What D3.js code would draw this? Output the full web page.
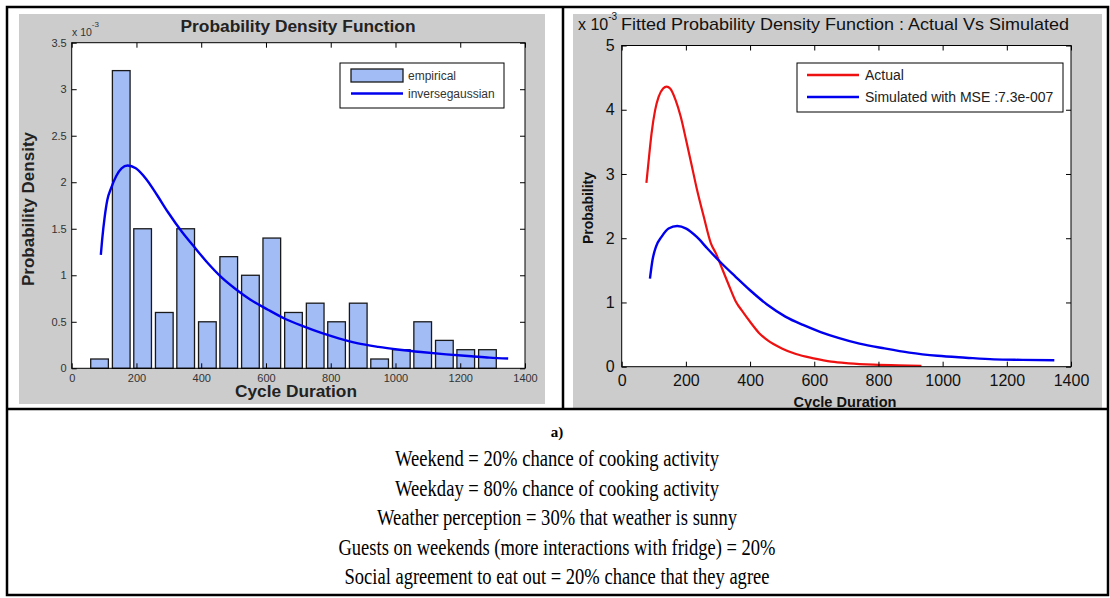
<!DOCTYPE html>
<html>
<head>
<meta charset="utf-8">
<script src="https://cdn.jsdelivr.net/npm/d3@7"></script>
<style>
body{margin:0;background:#fff;}
svg{display:block;}
</style>
</head>
<body>
<svg id="chart" width="1110" height="598"></svg>
<script>
// ---------------- DATA ----------------
// Left: histogram (density ×1e-3) and inverse gaussian fit
const binCenters = [86, 153, 219, 286, 352, 419, 485, 552, 618, 685, 752, 818, 885, 951, 1018, 1084, 1151, 1217, 1284];
const empiricalDensity = [0.1, 3.2, 1.5, 0.6, 1.5, 0.5, 1.2, 1.0, 1.4, 0.6, 0.7, 0.5, 0.7, 0.1, 0.2, 0.5, 0.3, 0.2, 0.2];
const fitX = [90, 94, 102, 110, 121, 138, 154, 173, 198, 231, 264, 297, 342, 375, 418, 462, 507, 551, 606, 660, 716, 771, 827, 881, 947, 1013, 1079, 1157, 1234, 1290, 1348];
const fitY = [1.22, 1.38, 1.63, 1.81, 1.93, 2.07, 2.15, 2.18, 2.15, 2.03, 1.86, 1.68, 1.46, 1.32, 1.14, 0.98, 0.85, 0.74, 0.63, 0.53, 0.45, 0.38, 0.32, 0.27, 0.23, 0.20, 0.175, 0.15, 0.13, 0.115, 0.105];

// Right: actual vs simulated density (×1e-3)
const actualX = [77, 85, 93, 104, 115, 129, 140, 151, 168, 184, 201, 217, 234, 256, 278, 294, 311, 333, 355, 378, 400, 427, 455, 499, 543, 598, 653, 708, 785, 862, 934];
const actualY = [2.86, 3.26, 3.63, 3.99, 4.20, 4.33, 4.36, 4.33, 4.15, 3.89, 3.52, 3.16, 2.77, 2.33, 1.92, 1.76, 1.55, 1.28, 1.02, 0.85, 0.70, 0.53, 0.41, 0.285, 0.197, 0.13, 0.078, 0.052, 0.031, 0.02, 0.015];
const simX = [88, 96, 107, 124, 146, 173, 201, 234, 267, 311, 355, 400, 455, 510, 565, 620, 675, 741, 819, 896, 984, 1072, 1160, 1249, 1348];
const simY = [1.37, 1.66, 1.87, 2.02, 2.15, 2.19, 2.15, 2.02, 1.84, 1.61, 1.40, 1.19, 0.96, 0.78, 0.65, 0.54, 0.45, 0.36, 0.285, 0.22, 0.17, 0.14, 0.114, 0.106, 0.10];

// Ticks and labels
const xTicks = [0, 200, 400, 600, 800, 1000, 1200, 1400];
const leftYTicks = [0, 0.5, 1, 1.5, 2, 2.5, 3, 3.5];
const leftYTickLabels = ["0", "0.5", "1", "1.5", "2", "2.5", "3", "3.5"];
const rightYTicks = [0, 1, 2, 3, 4, 5];
const leftTitle = "Probability Density Function";
const leftXLabel = "Cycle Duration";
const leftYLabel = "Probability Density";
const rightTitle = "Fitted Probability Density Function : Actual Vs Simulated";
const rightXLabel = "Cycle Duration";
const rightYLabel = "Probability";
const leftLegend = ["empirical", "inversegaussian"];
const rightLegend = ["Actual", "Simulated with MSE :7.3e-007"];
const captionLabel = "a)";
const captionLines = [
  "Weekend = 20% chance of cooking activity",
  "Weekday = 80% chance of cooking activity",
  "Weather perception = 30% that weather is sunny",
  "Guests on weekends (more interactions with fridge) = 20%",
  "Social agreement to eat out = 20% chance that they agree"
];

// ---------------- DRAWING ----------------
const svg = d3.select("#chart");
const SANS = "'Liberation Sans', Arial, sans-serif";
const SERIF = "'Liberation Serif', 'Times New Roman', serif";
const GRAY = "#cccccc";

svg.append("rect").attr("width", 1110).attr("height", 598).attr("fill", "#fff");

// figure panels
svg.append("rect").attr("x", 19).attr("y", 14).attr("width", 526).attr("height", 390).attr("fill", GRAY);
svg.append("rect").attr("x", 573).attr("y", 14).attr("width", 529).attr("height", 395).attr("fill", GRAY);

function drawAxes(g, xs, ys, yTicks, yFmt, fs, padX, padY, color) {
  const [x0, x1] = xs.range();
  const [y0, y1] = ys.range();
  const styleText = sel => sel.selectAll("text")
      .attr("font-family", SANS).attr("font-size", fs).attr("fill", color);
  const b = g.append("g").attr("transform", `translate(0,${y0})`)
    .call(d3.axisBottom(xs).tickValues(xTicks).tickSizeInner(-5).tickSizeOuter(0).tickPadding(padX).tickFormat(d3.format("d")));
  const t = g.append("g").attr("transform", `translate(0,${y1})`)
    .call(d3.axisTop(xs).tickValues(xTicks).tickSizeInner(-5).tickSizeOuter(0).tickFormat(""));
  const l = g.append("g").attr("transform", `translate(${x0},0)`)
    .call(d3.axisLeft(ys).tickValues(yTicks).tickSizeInner(-5).tickSizeOuter(0).tickPadding(padY).tickFormat(yFmt));
  const r = g.append("g").attr("transform", `translate(${x1},0)`)
    .call(d3.axisRight(ys).tickValues(yTicks).tickSizeInner(-5).tickSizeOuter(0).tickFormat(""));
  [b, t, l, r].forEach(a => {
    a.select(".domain").remove();
    a.selectAll("line").attr("stroke", "#000").attr("stroke-width", 1);
    styleText(a);
  });
  g.append("rect").attr("x", x0).attr("y", y1).attr("width", x1 - x0).attr("height", y0 - y1)
    .attr("fill", "none").attr("stroke", "#000").attr("stroke-width", 1);
}

// ---------- LEFT CHART ----------
const xL = d3.scaleLinear().domain([0, 1400]).range([71.7, 525]);
const yL = d3.scaleLinear().domain([0, 3.5]).range([368.3, 42.7]);
const gL = svg.append("g");
gL.append("rect").attr("x", xL(0)).attr("y", yL(3.5)).attr("width", xL(1400) - xL(0)).attr("height", yL(0) - yL(3.5)).attr("fill", "#fff");

const BAR_HALF = 27.3;
const BAR_FILL = "#a2bcf6";
gL.selectAll("rect.bar").data(binCenters.map((c, i) => ({c, v: empiricalDensity[i]}))).enter()
  .append("rect").attr("class", "bar")
  .attr("x", d => xL(d.c - BAR_HALF))
  .attr("width", d => xL(d.c + BAR_HALF) - xL(d.c - BAR_HALF))
  .attr("y", d => yL(d.v))
  .attr("height", d => yL(0) - yL(d.v))
  .attr("fill", BAR_FILL).attr("stroke", "#1a1a1a").attr("stroke-width", 1.3);

const lineL = d3.line().x(d => xL(d[0])).y(d => yL(d[1])).curve(d3.curveMonotoneX);
gL.append("path").attr("d", lineL(fitX.map((x, i) => [x, fitY[i]])))
  .attr("fill", "none").attr("stroke", "#0000ee").attr("stroke-width", 2.4);

drawAxes(gL, xL, yL, leftYTicks, (d, i) => leftYTickLabels[i], 11, 6, 5, "#333");

// exponent
const eL = gL.append("text").attr("x", 72).attr("y", 36).attr("font-family", SANS).attr("font-size", 10.5).attr("fill", "#333");
eL.append("tspan").text("x 10");
eL.append("tspan").attr("dy", -9).attr("font-size", 8).text("-3");

// title & labels
gL.append("text").attr("x", 298).attr("y", 32).attr("text-anchor", "middle")
  .attr("font-family", SANS).attr("font-weight", "bold").attr("font-size", 16).attr("fill", "#222")
  .attr("textLength", 235).attr("lengthAdjust", "spacingAndGlyphs").text(leftTitle);
gL.append("text").attr("x", 296).attr("y", 397).attr("text-anchor", "middle")
  .attr("font-family", SANS).attr("font-weight", "bold").attr("font-size", 17).attr("fill", "#222")
  .attr("textLength", 122).attr("lengthAdjust", "spacingAndGlyphs").text(leftXLabel);
gL.append("text").attr("transform", "translate(34,209) rotate(-90)").attr("text-anchor", "middle")
  .attr("font-family", SANS).attr("font-weight", "bold").attr("font-size", 17).attr("fill", "#222")
  .attr("textLength", 154).attr("lengthAdjust", "spacingAndGlyphs").text(leftYLabel);

// legend
const lgL = gL.append("g");
lgL.append("rect").attr("x", 340).attr("y", 63).attr("width", 164).attr("height", 45).attr("fill", "#fff").attr("stroke", "#000").attr("stroke-width", 1);
lgL.append("rect").attr("x", 351).attr("y", 69).attr("width", 52).attr("height", 13).attr("fill", BAR_FILL).attr("stroke", "#1a1a1a").attr("stroke-width", 1.3);
lgL.append("line").attr("x1", 351).attr("x2", 403).attr("y1", 93.5).attr("y2", 93.5).attr("stroke", "#0000ee").attr("stroke-width", 2.4);
lgL.selectAll("text.lg").data(leftLegend).enter().append("text").attr("class", "lg")
  .attr("x", 408).attr("y", (d, i) => i === 0 ? 79.5 : 97.5)
  .attr("font-family", SANS).attr("font-size", 12).attr("fill", "#333").text(d => d);

// ---------- RIGHT CHART ----------
const xR = d3.scaleLinear().domain([0, 1400]).range([621.7, 1071]);
const yR = d3.scaleLinear().domain([0, 5]).range([366.7, 45.5]);
const gR = svg.append("g");
gR.append("rect").attr("x", xR(0)).attr("y", yR(5)).attr("width", xR(1400) - xR(0)).attr("height", yR(0) - yR(5)).attr("fill", "#fff");

const lineR = d3.line().x(d => xR(d[0])).y(d => yR(d[1])).curve(d3.curveMonotoneX);
gR.append("path").attr("d", lineR(actualX.map((x, i) => [x, actualY[i]])))
  .attr("fill", "none").attr("stroke", "#ee1111").attr("stroke-width", 2.2);
gR.append("path").attr("d", lineR(simX.map((x, i) => [x, simY[i]])))
  .attr("fill", "none").attr("stroke", "#0000ee").attr("stroke-width", 2.4);

drawAxes(gR, xR, yR, rightYTicks, d3.format("d"), 16, 8, 7, "#111");

const eR = gR.append("text").attr("x", 578).attr("y", 29.5).attr("font-family", SANS).attr("font-size", 16).attr("fill", "#111");
eR.append("tspan").text("x 10");
eR.append("tspan").attr("dy", -10).attr("font-size", 10).text("-3");
gR.append("text").attr("x", 621).attr("y", 29.5)
  .attr("font-family", SANS).attr("font-size", 17).attr("fill", "#111")
  .attr("textLength", 448).attr("lengthAdjust", "spacingAndGlyphs").text(rightTitle);
gR.append("text").attr("x", 845).attr("y", 407).attr("text-anchor", "middle")
  .attr("font-family", SANS).attr("font-weight", "bold").attr("font-size", 14).attr("fill", "#111")
  .attr("textLength", 103).attr("lengthAdjust", "spacingAndGlyphs").text(rightXLabel);
gR.append("text").attr("transform", "translate(593,208) rotate(-90)").attr("text-anchor", "middle")
  .attr("font-family", SANS).attr("font-weight", "bold").attr("font-size", 14).attr("fill", "#111")
  .attr("textLength", 72).attr("lengthAdjust", "spacingAndGlyphs").text(rightYLabel);

const lgR = gR.append("g");
lgR.append("rect").attr("x", 797).attr("y", 63).attr("width", 266).attr("height", 49).attr("fill", "#fff").attr("stroke", "#000").attr("stroke-width", 1);
const lgColors = ["#ee1111", "#0000ee"];
rightLegend.forEach((t, i) => {
  const yy = i === 0 ? 75 : 97;
  lgR.append("line").attr("x1", 807).attr("x2", 859).attr("y1", yy).attr("y2", yy).attr("stroke", lgColors[i]).attr("stroke-width", 2.4);
  lgR.append("text").attr("x", 865).attr("y", yy + 5).attr("font-family", SANS).attr("font-size", 14).attr("fill", "#222").text(t);
});

// ---------- TABLE LINES ----------
const tbl = svg.append("g").attr("stroke", "#000").attr("stroke-width", 2.5).attr("fill", "none");
tbl.append("rect").attr("x", 7).attr("y", 7).attr("width", 1101).attr("height", 588);
tbl.append("line").attr("x1", 563).attr("x2", 563).attr("y1", 7).attr("y2", 409);
tbl.append("line").attr("x1", 7).attr("x2", 1108).attr("y1", 409).attr("y2", 409);

// ---------- CAPTION ----------
svg.append("text").attr("x", 557).attr("y", 437).attr("text-anchor", "middle")
  .attr("font-family", SERIF).attr("font-weight", "bold").attr("font-size", 15).attr("fill", "#000").text(captionLabel);
const capWidths = [324, 324, 360, 437, 425];
svg.selectAll("text.cap").data(captionLines).enter().append("text").attr("class", "cap")
  .attr("x", 557).attr("y", (d, i) => 466 + i * 29.5).attr("text-anchor", "middle")
  .attr("font-family", SERIF).attr("font-size", 24).attr("fill", "#000")
  .attr("textLength", (d, i) => capWidths[i]).attr("lengthAdjust", "spacingAndGlyphs")
  .text(d => d);
</script>
</body>
</html>
